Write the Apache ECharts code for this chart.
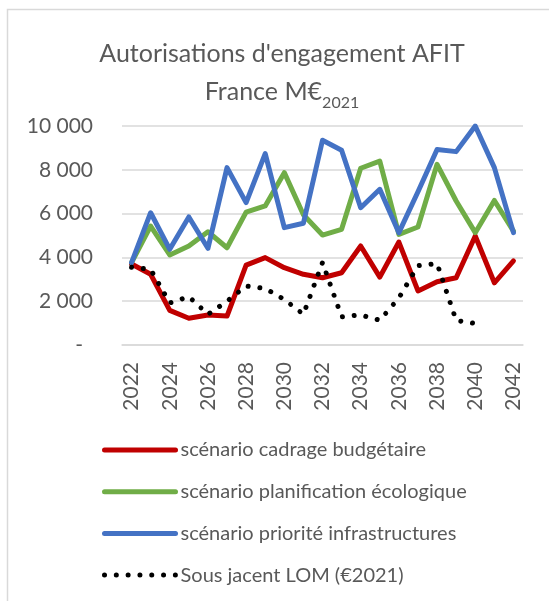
<!DOCTYPE html>
<html>
<head>
<meta charset="utf-8">
<script src="https://cdn.jsdelivr.net/npm/echarts@6/dist/echarts.min.js"></script>
<style>
html,body{margin:0;padding:0;background:#fff;}
#chart{width:549px;height:601px;}
</style>
</head>
<body>
<div id="chart"></div>
<script>
const years = ['2022','2023','2024','2025','2026','2027','2028','2029','2030','2031','2032','2033','2034','2035','2036','2037','2038','2039','2040','2041','2042'];
const cadrage = [3700, 3230, 1580, 1220, 1370, 1320, 3650, 3990, 3530, 3230, 3070, 3300, 4520, 3100, 4700, 2470, 2890, 3070, 4980, 2840, 3840];
const planification = [3760, 5430, 4110, 4520, 5170, 4440, 6070, 6350, 7870, 5950, 5020, 5280, 8070, 8400, 5050, 5390, 8250, 6575, 5130, 6600, 5200];
const priorite = [3760, 6040, 4370, 5845, 4415, 8100, 6500, 8735, 5360, 5560, 9350, 8890, 6270, 7110, 5130, 7000, 8930, 8830, 10000, 8100, 5130];
const lom = [3550, 3450, 1920, 2210, 1400, 2000, 2690, 2580, 2080, 1400, 3770, 1290, 1370, 1130, 2150, 3620, 3720, 1120, 980, null, null];
const seriesNames = ['scénario cadrage budgétaire', 'scénario planification écologique', 'scénario priorité infrastructures', 'Sous jacent LOM (€2021)'];

const FONT = 'Lato';
const GREY = '#595959';
function fmt(v) {
  if (v === 0) return '{d|-}';
  return String(v).replace(/\B(?=(\d{3})+(?!\d))/g, ' ');
}

const chart = echarts.init(document.getElementById('chart'), null, {renderer: 'canvas'});
chart.setOption({
  backgroundColor: '#fff',
  animation: false,
  textStyle: {fontFamily: FONT},
  graphic: [{
    type: 'rect', left: 5, top: 7, silent: true,
    shape: {width: 560, height: 610},
    style: {fill: 'none', stroke: '#d9d9d9', lineWidth: 1.5}
  }],
  title: {
    text: 'Autorisations d\'engagement AFIT\nFrance M€{sub|2021}',
    left: 277, top: 30, textAlign: 'center',
    textStyle: {
      fontFamily: FONT, fontSize: 25, fontWeight: 'normal', color: GREY, lineHeight: 38,
      rich: {sub: {fontFamily: FONT, fontSize: 16, color: GREY, verticalAlign: 'bottom', padding: [14, 0, 0, 0]}}
    }
  },
  legend: {
    orient: 'vertical', left: 97, top: 435,
    itemWidth: 71, itemHeight: 20, itemGap: 21.7,
    data: seriesNames,
    textStyle: {fontFamily: FONT, fontSize: 20, color: GREY},
    itemStyle: {opacity: 0},
    lineStyle: {width: 5}
  },
  grid: {left: 122, right: 26, top: 126, bottom: 256, containLabel: false},
  xAxis: {
    type: 'category', data: years, boundaryGap: true,
    axisTick: {show: false},
    axisLine: {lineStyle: {color: '#d9d9d9', width: 1.5}},
    axisLabel: {interval: 1, rotate: 90, margin: 17, fontFamily: FONT, fontSize: 21, color: GREY}
  },
  yAxis: {
    type: 'value', min: 0, max: 10000, interval: 2000,
    axisLine: {show: false}, axisTick: {show: false},
    splitLine: {lineStyle: {color: '#d9d9d9', width: 1.5}},
    axisLabel: {
      margin: 29, fontFamily: FONT, fontSize: 21, color: GREY,
      formatter: fmt,
      rich: {d: {fontFamily: FONT, fontSize: 21, color: GREY, padding: [0, 10, 0, 0]}}
    }
  },
  series: [
    {name: seriesNames[0], type: 'line', data: cadrage, symbol: 'none', color: '#C00000',
     lineStyle: {width: 5, color: '#C00000', join: 'round', cap: 'round'}, z: 3},
    {name: seriesNames[1], type: 'line', data: planification, symbol: 'none', color: '#70AD47',
     lineStyle: {width: 5, color: '#70AD47', join: 'round', cap: 'round'}, z: 4},
    {name: seriesNames[2], type: 'line', data: priorite, symbol: 'none', color: '#4472C4',
     lineStyle: {width: 5, color: '#4472C4', join: 'round', cap: 'round'}, z: 5},
    {name: seriesNames[3], type: 'line', data: lom, symbol: 'none', color: '#000000', connectNulls: false,
     lineStyle: {width: 5, color: '#000000', type: [0.01, 11.8], cap: 'round', join: 'round'}, z: 6}
  ]
});
</script>
</body>
</html>
